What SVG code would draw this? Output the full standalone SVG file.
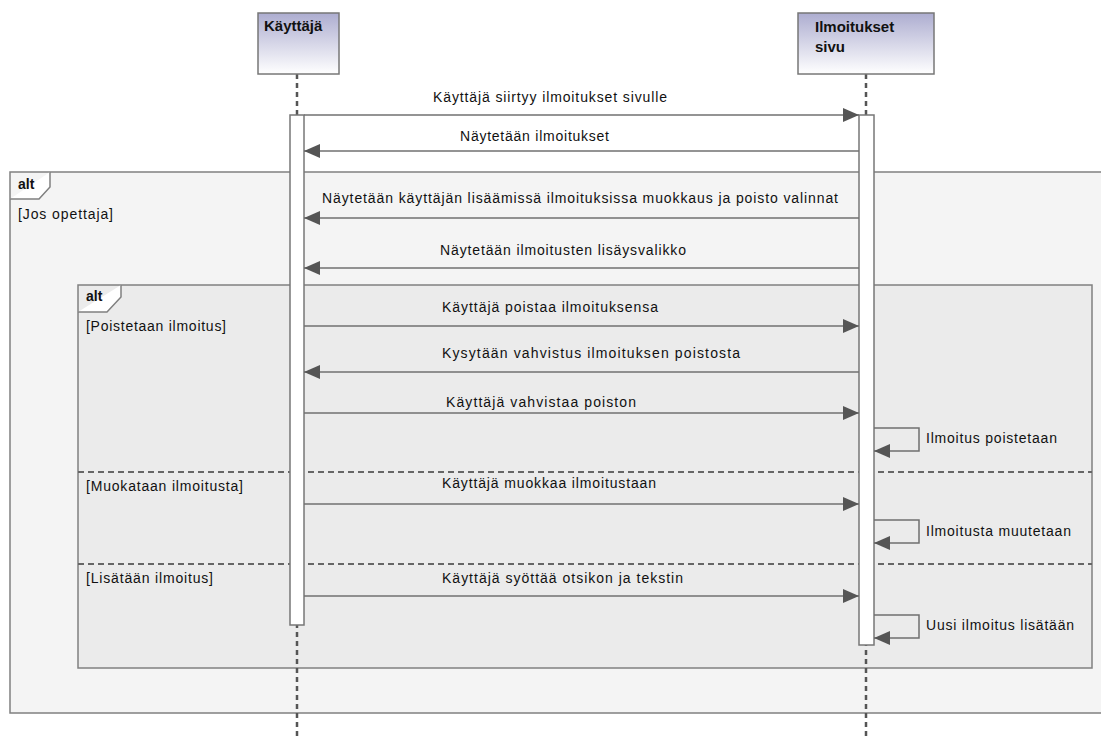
<svg xmlns="http://www.w3.org/2000/svg" width="1101" height="738" viewBox="0 0 1101 738">
  <defs>
    <linearGradient id="hdr" x1="0" y1="0" x2="0" y2="1">
      <stop offset="0" stop-color="#adadd0"/>
      <stop offset="1" stop-color="#ffffff"/>
    </linearGradient>
    <marker id="head" viewBox="0 0 16 14" refX="16" refY="7" markerWidth="16" markerHeight="14" markerUnits="userSpaceOnUse" orient="auto">
      <path d="M0,0 L16,7 L0,14 Z" fill="#555"/>
    </marker>
  </defs>
  <style>
    text { font-family: "Liberation Sans", Arial, sans-serif; font-size: 14px; fill: #111; }
    .b { font-weight: bold; }
    .h { font-weight: bold; font-size: 15px; }
    .frame { stroke: #808080; stroke-width: 1.5; }
    .sep { stroke: #666; stroke-width: 2; stroke-dasharray: 6 4; fill: none; }
    .life { stroke: #555; stroke-width: 2.5; stroke-dasharray: 5 4; fill: none; }
    .act { fill: #fff; stroke: #777; stroke-width: 1.5; }
    .msg { stroke: #707070; stroke-width: 1.5; fill: none; marker-end: url(#head); }
    .hbox { fill: url(#hdr); stroke: #777; stroke-width: 1.5; }
  </style>

  <rect width="1101" height="738" fill="#fff"/>

  <!-- combined fragments -->
  <g id="alt-outer">
    <rect x="10" y="172" width="1100" height="541" fill="#f4f4f4" class="frame"/>
    <path d="M10,199 L39,199 L50,187 L50,172" fill="#fff" class="frame"/>
    <text x="18" y="189" class="b">alt</text>
    <text x="18" y="219" textLength="95">[Jos opettaja]</text>
  </g>
  <g id="alt-inner">
    <rect x="78" y="285" width="1014" height="383" fill="#ebebeb" class="frame"/>
    <path d="M78,312 L107,312 L121,297 L121,285" fill="#fff" class="frame"/>
    <text x="86" y="301" class="b">alt</text>
    <text x="86" y="331" textLength="140">[Poistetaan ilmoitus]</text>
    <line x1="78" y1="472" x2="1092" y2="472" class="sep"/>
    <text x="86" y="491" textLength="157">[Muokataan ilmoitusta]</text>
    <line x1="78" y1="564" x2="1092" y2="564" class="sep"/>
    <text x="86" y="583" textLength="127">[Lisätään ilmoitus]</text>
  </g>

  <!-- lifelines -->
  <g id="kayttaja">
    <line x1="297" y1="74" x2="297" y2="738" class="life"/>
    <rect x="258" y="13" width="81" height="61" class="hbox"/>
    <text x="264" y="31" class="h">Käyttäjä</text>
    <rect x="290" y="115" width="14" height="510" class="act"/>
  </g>
  <g id="ilmoitukset-sivu">
    <line x1="866" y1="74" x2="866" y2="738" class="life"/>
    <rect x="798" y="13" width="136" height="61" class="hbox"/>
    <text x="815" y="32" class="h">Ilmoitukset</text>
    <text x="815" y="52" class="h">sivu</text>
    <rect x="859" y="115" width="15" height="530" class="act"/>
  </g>

  <!-- messages -->
  <g id="connectors">
    <line x1="304" y1="115" x2="859" y2="115" class="msg"/>
    <text x="433" y="102" textLength="234">Käyttäjä siirtyy ilmoitukset sivulle</text>

    <line x1="859" y1="151" x2="304" y2="151" class="msg"/>
    <text x="460" y="141" textLength="149">Näytetään ilmoitukset</text>

    <line x1="859" y1="218" x2="304" y2="218" class="msg"/>
    <text x="322" y="203" textLength="516">Näytetään käyttäjän lisäämissä ilmoituksissa muokkaus ja poisto valinnat</text>

    <line x1="859" y1="268" x2="304" y2="268" class="msg"/>
    <text x="440" y="255" textLength="246">Näytetään ilmoitusten lisäysvalikko</text>

    <line x1="304" y1="326" x2="859" y2="326" class="msg"/>
    <text x="442" y="312" textLength="216">Käyttäjä poistaa ilmoituksensa</text>

    <line x1="859" y1="372" x2="304" y2="372" class="msg"/>
    <text x="442" y="358" textLength="298">Kysytään vahvistus ilmoituksen poistosta</text>

    <line x1="304" y1="413" x2="859" y2="413" class="msg"/>
    <text x="446" y="407" textLength="190">Käyttäjä vahvistaa poiston</text>

    <path d="M874,428 H919 V451 H874" class="msg"/>
    <text x="926" y="443" textLength="131">Ilmoitus poistetaan</text>

    <line x1="304" y1="504" x2="859" y2="504" class="msg"/>
    <text x="442" y="488" textLength="214">Käyttäjä muokkaa ilmoitustaan</text>

    <path d="M874,520 H919 V543 H874" class="msg"/>
    <text x="926" y="536" textLength="145">Ilmoitusta muutetaan</text>

    <line x1="304" y1="596" x2="859" y2="596" class="msg"/>
    <text x="442" y="583" textLength="241">Käyttäjä syöttää otsikon ja tekstin</text>

    <path d="M874,615 H919 V638 H874" class="msg"/>
    <text x="926" y="630" textLength="148">Uusi ilmoitus lisätään</text>
  </g>
</svg>
